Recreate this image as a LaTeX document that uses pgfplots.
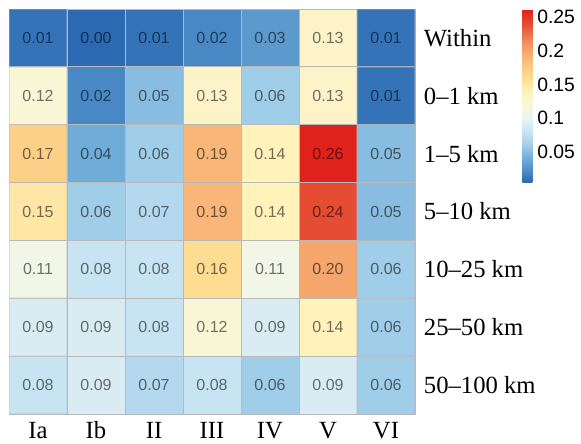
\documentclass[border=0pt]{standalone}
\usepackage{pgfplots}
\pgfplotsset{compat=1.18}
\usepackage{pgfplotstable}
\usepackage{fontspec}
\setmainfont{Liberation Serif}
\setsansfont{Liberation Sans}
\pgfplotstableread{
x y C L
0 0 0.01 0.01
1 0 0.00 0.00
2 0 0.01 0.01
3 0 0.02 0.02
4 0 0.03 0.03
5 0 0.13 0.13
6 0 0.01 0.01
0 1 0.12 0.12
1 1 0.02 0.02
2 1 0.05 0.05
3 1 0.13 0.13
4 1 0.06 0.06
5 1 0.13 0.13
6 1 0.01 0.01
0 2 0.17 0.17
1 2 0.04 0.04
2 2 0.06 0.06
3 2 0.19 0.19
4 2 0.14 0.14
5 2 0.26 0.26
6 2 0.05 0.05
0 3 0.15 0.15
1 3 0.06 0.06
2 3 0.07 0.07
3 3 0.19 0.19
4 3 0.14 0.14
5 3 0.24 0.24
6 3 0.05 0.05
0 4 0.11 0.11
1 4 0.08 0.08
2 4 0.08 0.08
3 4 0.16 0.16
4 4 0.11 0.11
5 4 0.20 0.20
6 4 0.06 0.06
0 5 0.09 0.09
1 5 0.09 0.09
2 5 0.08 0.08
3 5 0.12 0.12
4 5 0.09 0.09
5 5 0.14 0.14
6 5 0.06 0.06
0 6 0.08 0.08
1 6 0.09 0.09
2 6 0.07 0.07
3 6 0.08 0.08
4 6 0.06 0.06
5 6 0.09 0.09
6 6 0.06 0.06
}\heat
\pgfplotsset{
  colormap={rdylbu}{[1pt]
    rgb255(5pt)=(44,105,178)
    rgb255(20pt)=(72,136,196)
    rgb255(40pt)=(112,172,216)
    rgb255(60pt)=(160,205,232)
    rgb255(80pt)=(200,228,242)
    rgb255(100pt)=(234,245,246)
    rgb255(120pt)=(249,247,214)
    rgb255(140pt)=(255,242,186)
    rgb255(160pt)=(254,221,146)
    rgb255(190pt)=(248,182,120)
    rgb255(210pt)=(241,150,96)
    rgb255(240pt)=(229,76,50)
    rgb255(262pt)=(224,30,27)
  }
}
\begin{document}
\begin{tikzpicture}
\path[use as bounding box] (-6.75pt,-21.75pt) rectangle (429pt,310.5pt);
\begin{axis}[
  scale only axis,
  width=304.5pt, height=303.75pt,
  xmin=-0.5, xmax=6.5, ymin=-0.5, ymax=6.5,
  y dir=reverse,
  enlargelimits=false,
  axis line style={draw=gray!55, line width=0.6pt},
  xtick={0,...,6}, ytick={0,...,6},
  xticklabels={Ia,Ib,II,III,IV,V,VI},
  yticklabels={Within,0--1 km,1--5 km,5--10 km,10--25 km,25--50 km,50--100 km},
  yticklabel pos=right,
  major tick length=0pt,
  tick style={draw=none},
  xticklabel style={font=\fontsize{18.5}{19}\selectfont, inner sep=0pt, yshift=-4pt, anchor=north, text height=14.3pt, text depth=0pt},
  yticklabel style={font=\fontsize{18.5}{19}\selectfont, inner sep=0pt, xshift=6.5pt, anchor=west},
  colormap name=rdylbu,
  point meta min=0.005, point meta max=0.262,
  colorbar right,
  colorbar shift/.style={xshift=80.5pt},
  colorbar style={
    at={(parent axis.north east)}, anchor=north west,
    width=7.5pt, height=130pt,
    scaled y ticks=false,
    ytick={0.05,0.1,0.15,0.2,0.25},
    yticklabels={0.05,0.1,0.15,0.2,0.25},
    yticklabel style={font=\sffamily\fontsize{14.5}{14.5}\selectfont, inner sep=0pt, xshift=3.5pt},
    major tick length=0pt,
    axis line style={draw=none},
    tick style={draw=none},
  },
]
\addplot[matrix plot*, mesh/cols=7, point meta=explicit, draw=gray!55, line width=0.6pt]
  table[x=x, y=y, meta=C] {\heat};
\addplot[only marks, mark=none, point meta=explicit symbolic,
  nodes near coords={\pgfplotspointmeta}, nodes near coords align=center,
  every node near coord/.append style={font=\sffamily\fontsize{12}{12}\selectfont, text=black, text opacity=0.55, anchor=center}]
  table[x=x, y=y, meta=L] {\heat};
\end{axis}
\end{tikzpicture}
\end{document}
